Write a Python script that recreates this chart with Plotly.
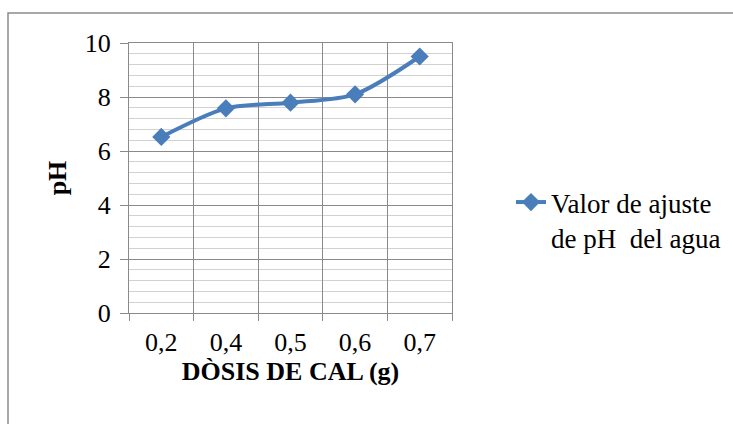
import plotly.graph_objects as go

categories = ["0,2", "0,4", "0,5", "0,6", "0,7"]
ph_values = [6.52, 7.58, 7.79, 8.1, 9.5]
series_name = "Valor de ajuste<br>de pH  del agua"
y_ticks = [0, 2, 4, 6, 8, 10]

BLUE = "#4A7EBB"
MAJOR = "#8a8a8a"
MINOR = "#d2d2d2"
FONT = "Liberation Serif, Times New Roman, serif"
FS = 26

fig = go.Figure()
fig.add_trace(go.Scatter(
    x=categories, y=ph_values, name=series_name,
    mode="lines+markers",
    line=dict(color=BLUE, width=4, shape="spline", smoothing=0.8),
    marker=dict(symbol="diamond", size=14, color=BLUE),
    xaxis="x", yaxis="y",
))

L, R, T, B = 129, 733 - 452, 43, 424 - 313
W, H = 733 - L - R, 424 - T - B

def px_x(p):
    return (p - L) / W

def px_y(p):
    return (424 - B - p) / H

fig.update_layout(
    width=733, height=424,
    margin=dict(l=L, r=R, t=T, b=B, autoexpand=False),
    paper_bgcolor="white", plot_bgcolor="white",
    font=dict(family=FONT, size=FS, color="black"),
    xaxis=dict(
        type="category", categoryarray=categories, categoryorder="array",
        range=[-0.5, 4.5], tickson="boundaries",
        ticks="outside", ticklen=7, tickcolor=MAJOR, tickwidth=1,
        ticklabelstandoff=6,
        showgrid=True, gridcolor=MAJOR, gridwidth=1,
        showline=True, linecolor=MAJOR, linewidth=1, mirror=True,
        tickfont=dict(family=FONT, size=FS),
        title=dict(text="<b>DÒSIS DE CAL (g)</b>", font=dict(family=FONT, size=FS), standoff=0),
        zeroline=False, automargin=False,
    ),
    xaxis2=dict(
        type="category", categoryarray=categories, categoryorder="array",
        range=[-0.5, 4.5], overlaying="x", matches="x",
        showgrid=True, gridcolor=MINOR, gridwidth=1,
        showticklabels=False, ticks="", showline=False, zeroline=False,
    ),
    yaxis=dict(
        range=[0, 10], tickvals=y_ticks,
        ticks="outside", ticklen=8, tickcolor=MAJOR, tickwidth=1,
        ticklabelstandoff=4,
        showgrid=True, gridcolor=MAJOR, gridwidth=1,
        minor=dict(dtick=0.4, tick0=0, showgrid=True, gridcolor=MINOR, ticks=""),
        showline=True, linecolor=MAJOR, linewidth=1, mirror=True,
        tickfont=dict(family=FONT, size=FS),
        title=dict(text="<b>pH</b>", font=dict(family=FONT, size=FS), standoff=10),
        zeroline=False, automargin=False,
    ),
    showlegend=True,
    legend=dict(
        x=px_x(511), y=px_y(178), xanchor="left", yanchor="top",
        valign="top", bgcolor="rgba(0,0,0,0)",
        font=dict(family=FONT, size=27),
    ),
    shapes=[dict(
        type="rect", xref="paper", yref="paper",
        x0=px_x(8), x1=px_x(745), y0=px_y(440), y1=px_y(13),
        line=dict(color="#8c8c8c", width=1.5), fillcolor="rgba(0,0,0,0)",
        layer="below",
    )],
)

fig.write_html("out.html")
